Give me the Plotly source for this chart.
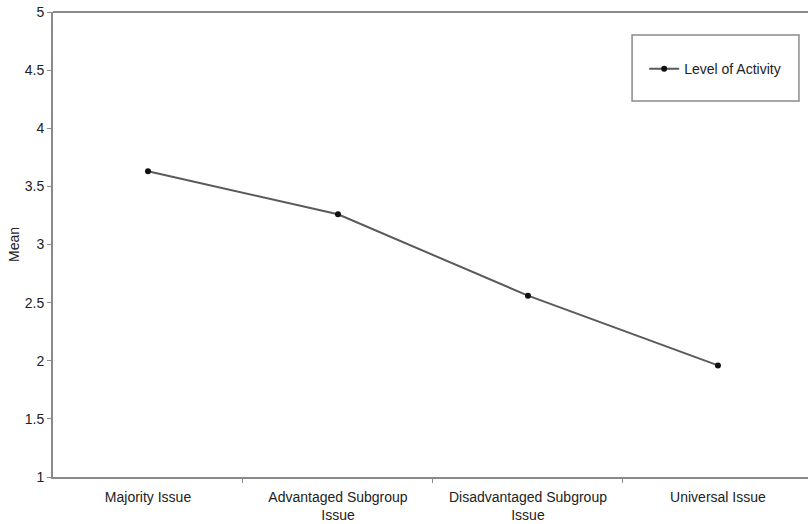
import plotly.graph_objects as go

# Mean level of activity by issue type
categories = [
    "Majority Issue",
    "Advantaged Subgroup<br>Issue",
    "Disadvantaged Subgroup<br>Issue",
    "Universal Issue",
]
level_of_activity = [3.63, 3.26, 2.56, 1.96]
y_ticks = [1, 1.5, 2, 2.5, 3, 3.5, 4, 4.5, 5]
y_tick_text = ["1", "1.5", "2", "2.5", "3", "3.5", "4", "4.5", "5"]

FONT = "Arial, Liberation Sans, sans-serif"
TEXT = "#222222"
AXIS_GREY = "#8a8a8a"
FS = 14

positions = list(range(len(categories)))
boundaries = [p + 0.5 for p in positions[:-1]]

fig = go.Figure()
fig.add_trace(go.Scatter(
    x=positions,
    y=level_of_activity,
    mode="lines+markers",
    name="Level of Activity",
    line=dict(color="#5a5a5a", width=2),
    marker=dict(symbol="circle", size=6, color="#111111"),
))

fig.update_layout(
    width=808,
    height=524,
    margin=dict(l=53, r=0, t=12, b=47, autoexpand=False),
    paper_bgcolor="white",
    plot_bgcolor="white",
    font=dict(family=FONT, size=FS, color=TEXT),
    showlegend=True,
    legend=dict(
        x=0.783, y=0.877, xanchor="left", yanchor="middle",
        bgcolor="rgba(0,0,0,0)", borderwidth=0,
        font=dict(family=FONT, size=FS, color=TEXT),
        itemwidth=30,
    ),
    shapes=[
        # legend frame
        dict(type="rect", xref="paper", yref="paper",
             x0=0.767, x1=0.988, y0=0.8086, y1=0.9505,
             line=dict(color=AXIS_GREY, width=1.5), fillcolor="rgba(0,0,0,0)"),
        # top border of plot area
        dict(type="line", xref="paper", yref="paper",
             x0=0, x1=1, y0=1, y1=1,
             line=dict(color=AXIS_GREY, width=2)),
    ],
)

fig.update_xaxes(
    type="linear",
    tickmode="array",
    tickvals=positions,
    ticktext=categories,
    range=[-0.5, 3.474],
    automargin=False,
    showgrid=False,
    zeroline=False,
    showline=True,
    linecolor=AXIS_GREY,
    linewidth=2,
    # category labels sit centred; visible ticks mark the boundaries
    ticks="outside",
    ticklen=6,
    tickcolor="rgba(0,0,0,0)",
    minor=dict(tickmode="array", tickvals=boundaries, ticks="outside",
               ticklen=4, tickcolor=AXIS_GREY, tickwidth=1, showgrid=False),
    tickfont=dict(family=FONT, size=FS, color=TEXT),
)

fig.update_yaxes(
    range=[1, 5],
    tickmode="array",
    tickvals=y_ticks,
    ticktext=y_tick_text,
    automargin=False,
    showgrid=False,
    zeroline=False,
    showline=True,
    linecolor=AXIS_GREY,
    linewidth=2,
    ticks="outside",
    ticklen=4,
    tickcolor=AXIS_GREY,
    tickfont=dict(family=FONT, size=FS, color=TEXT),
    title=dict(text="Mean", font=dict(family=FONT, size=FS, color=TEXT), standoff=2),
)

fig.write_html("out.html")
